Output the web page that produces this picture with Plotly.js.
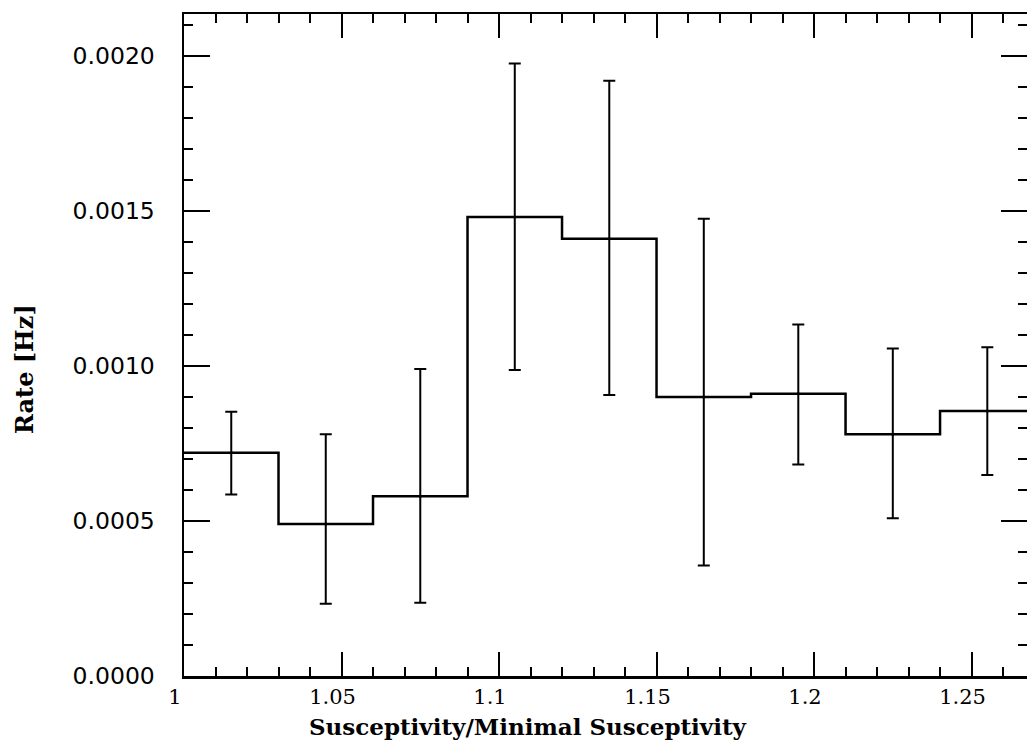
<!DOCTYPE html>
<html>
<head>
<meta charset="utf-8">
<script src="https://cdn.plot.ly/plotly-3.0.1.min.js"></script>
<style>html,body{margin:0;padding:0;background:#fff;}#chart{width:1027px;height:746px;}</style>
</head>
<body>
<div id="chart"></div>
<script>
// Bin edges (Susceptivity / Minimal Susceptivity)
const binEdges = [1.00, 1.03, 1.06, 1.09, 1.12, 1.15, 1.18, 1.21, 1.24, 1.27];
// Rate per bin [Hz]
const rate = [0.00072, 0.00049, 0.00058, 0.00148, 0.00141, 0.00090, 0.00091, 0.00078, 0.000855];
// Upper and lower ends of the error bars [Hz]
const rateUpper = [0.000852, 0.00078, 0.00099, 0.001975, 0.00192, 0.001475, 0.001134, 0.001056, 0.00106];
const rateLower = [0.000585, 0.000233, 0.000236, 0.000987, 0.000906, 0.000356, 0.000682, 0.000509, 0.000648];
// Tick labels
const xTickVals = [1, 1.05, 1.1, 1.15, 1.2, 1.25];
const xTickText = ['1', '1.05', '1.1', '1.15', '1.2', '1.25'];
const yTickVals = [0, 0.0005, 0.0010, 0.0015, 0.0020];
const yTickText = ['0.0000', '0.0005', '0.0010', '0.0015', '0.0020'];

const centers = rate.map((_, i) => (binEdges[i] + binEdges[i + 1]) / 2);
const stepY = rate.concat([rate[rate.length - 1]]);
const errPlus = rate.map((v, i) => rateUpper[i] - v);
const errMinus = rate.map((v, i) => v - rateLower[i]);

const histTrace = {
  type: 'scatter', mode: 'lines', x: binEdges, y: stepY,
  line: {shape: 'hv', color: '#000', width: 2.5},
  hoverinfo: 'skip', showlegend: false
};
const errTrace = {
  type: 'scatter', mode: 'markers', x: centers, y: rate,
  marker: {size: 3, color: '#000'},
  error_y: {type: 'data', symmetric: false, array: errPlus, arrayminus: errMinus,
            color: '#000', thickness: 2, width: 6},
  showlegend: false
};

const axisCommon = {
  showgrid: false, zeroline: false, showline: true, linecolor: '#000', linewidth: 2.5,
  ticks: 'inside', tickcolor: '#000', tickwidth: 2, mirror: 'allticks'
};

const layout = {
  width: 1027, height: 746,
  margin: {l: 184, r: 0, t: 14, b: 70},
  paper_bgcolor: '#fff', plot_bgcolor: '#fff',
  showlegend: false,
  xaxis: Object.assign({}, axisCommon, {
    range: [1, 1.2676],
    tickmode: 'array', tickvals: xTickVals, ticktext: xTickText,
    ticklen: 24, ticklabelshift: -9, ticklabelstandoff: 0,
    tickfont: {family: 'DejaVu Serif', size: 21, color: '#000'},
    minor: {dtick: 0.01, ticks: 'inside', ticklen: 9, tickwidth: 2, tickcolor: '#000', showgrid: false}
  }),
  yaxis: Object.assign({}, axisCommon, {
    range: [0, 0.002135],
    tickmode: 'array', tickvals: yTickVals, ticktext: yTickText,
    ticklen: 26, ticklabelstandoff: 22,
    tickfont: {family: 'DejaVu Sans', size: 23.5, color: '#000'},
    minor: {dtick: 0.0001, ticks: 'inside', ticklen: 9, tickwidth: 2, tickcolor: '#000', showgrid: false}
  }),
  annotations: [
    {text: 'Susceptivity/Minimal Susceptivity', xref: 'paper', yref: 'paper',
     x: (528 - 184) / 843, y: 0, yshift: -50, xanchor: 'center', yanchor: 'middle',
     showarrow: false, font: {family: 'DejaVu Serif', size: 23, color: '#000', weight: 600}},
    {text: 'Rate [Hz]', xref: 'paper', yref: 'paper', textangle: -90,
     x: 0, xshift: -159, y: (676 - 369) / 662, xanchor: 'center', yanchor: 'middle',
     showarrow: false, font: {family: 'DejaVu Serif', size: 24, color: '#000', weight: 600}}
  ]
};

Plotly.newPlot('chart', [histTrace, errTrace], layout, {staticPlot: true, displayModeBar: false});
</script>
</body>
</html>
